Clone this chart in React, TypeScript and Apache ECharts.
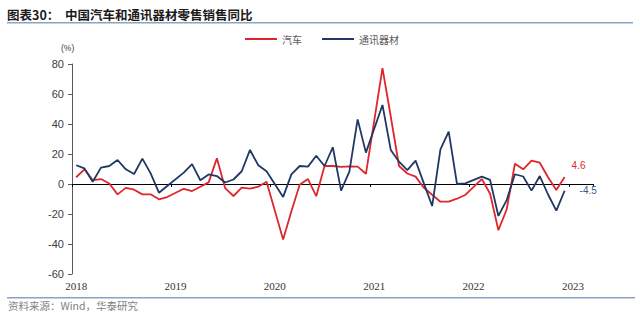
import React, { useEffect, useRef } from "react";
import * as echarts from "echarts";

// Categories: monthly, Jan 2018 .. Mar 2023
const YEARS = [2018, 2019, 2020, 2021, 2022, 2023];
const MONTHS: string[] = YEARS.flatMap((y) =>
  Array.from({ length: 12 }, (_, i) => `${y}-${String(i + 1).padStart(2, "0")}`)
).slice(0, 63);

// 汽车零售额同比 (%) — January folded into Jan-Feb, so left empty
const auto2018 = [4.5, 9.8, 2.6, 3.3, 0.3, -6.9, -2.6, -3.8, -6.9, -6.9, -10.2, -8.7];
const auto2019 = [null, -3.2, -4.7, -1.8, 1.1, 17.1, -2.8, -8.0, -2.4, -3.1, -1.8, 1.5];
const auto2020 = [null, -37.0, -18.1, -0.5, 3.3, -8.1, 12.0, 12.0, 11.4, 11.8, 11.6, 6.8];
const auto2021 = [null, 77.3, 45.0, 12.0, 7.0, 4.9, -2.5, -7.2, -11.8, -11.8, -9.8, -7.3];
const auto2022 = [null, 3.3, -6.5, -30.8, -17.0, 13.5, 9.8, 15.6, 14.2, 4.5, -4.0, 4.6];

// 通讯器材零售额同比 (%)
const comm2018 = [12.5, 10.4, 1.5, 10.9, 12.0, 16.0, 9.8, 6.7, 16.9, 7.1, -5.8, -1.3];
const comm2019 = [null, 7.6, 13.3, 2.5, 6.4, 5.3, 1.0, 3.0, 8.5, 22.7, 12.5, 8.5];
const comm2020 = [null, -8.6, 6.4, 12.0, 11.6, 18.8, 12.0, 24.5, -4.4, 8.2, 43.1, 20.9];
const comm2021 = [null, 52.7, 22.7, 14.9, 9.3, 15.6, 0.4, -14.7, 23.1, 34.9, 0.0, 0.4];
const comm2022 = [null, 4.9, 2.7, -21.3, -10.7, 6.5, 5.0, -4.4, 5.3, -7.0, -17.8, -4.5];

const AUTO = [...auto2018, ...auto2019, ...auto2020, ...auto2021, ...auto2022];
const COMM = [...comm2018, ...comm2019, ...comm2020, ...comm2021, ...comm2022];

const Y_MIN = -60;
const Y_MAX = 80;
const Y_STEP = 20;

const TITLE = "图表30：  中国汽车和通讯器材零售销售同比";
const SOURCE = "资料来源：Wind，华泰研究";
const UNIT = "(%)";
const NAMES = ["汽车", "通讯器材"];

const RED = "#E0262D";
const NAVY = "#1F3864";
const RULE = "#8AA3C4";

export default function App() {
  const ref = useRef<HTMLDivElement>(null);

  useEffect(() => {
    if (!ref.current) return;
    const chart = echarts.init(ref.current, undefined, { renderer: "svg" });
    const endFmt = (p: any) => String(Array.isArray(p.value) ? p.value[1] : p.value);
    chart.setOption({
      animation: false,
      backgroundColor: "#ffffff",
      grid: { left: 72, right: 46.4, top: 64, bottom: 45, containLabel: false },
      legend: {
        data: NAMES,
        left: 245,
        top: 34,
        padding: 0,
        icon: "rect",
        itemWidth: 32,
        itemHeight: 2,
        itemGap: 20,
        textStyle: { fontSize: 10, color: "#595959", fontFamily: "Noto Sans CJK SC" },
      },
      xAxis: [
        {
          type: "category",
          data: MONTHS,
          boundaryGap: true,
          position: "bottom",
          axisLine: { show: false, onZero: false },
          axisTick: { show: false },
          axisLabel: {
            interval: (i: number) => i % 12 === 0,
            formatter: (v: string) => v.slice(0, 4),
            fontSize: 11,
            color: "#333333",
            fontFamily: "Liberation Serif",
            margin: 6,
          },
          splitLine: { show: false },
        },
        {
          type: "category",
          data: MONTHS,
          boundaryGap: true,
          position: "bottom",
          axisLine: { show: true, onZero: true, lineStyle: { color: "#000000", width: 1 } },
          axisTick: {
            show: true,
            interval: (i: number) => i % 12 === 0,
            length: 3,
            lineStyle: { color: "#000000" },
          },
          axisLabel: { show: false },
          splitLine: { show: false },
        },
      ],
      yAxis: {
        type: "value",
        min: Y_MIN,
        max: Y_MAX,
        interval: Y_STEP,
        axisLine: { show: true, lineStyle: { color: "#595959" } },
        axisTick: { show: true, length: 4, lineStyle: { color: "#595959" } },
        axisLabel: { fontSize: 11, color: "#404040", margin: 8, fontFamily: "Liberation Sans" },
        splitLine: { show: false },
      },
      series: [
        {
          name: NAMES[0],
          type: "line",
          data: AUTO,
          xAxisIndex: 0,
          symbol: "none",
          connectNulls: true,
          silent: true,
          lineStyle: { color: RED, width: 1.8 },
          itemStyle: { color: RED },
          endLabel: {
            show: true,
            formatter: endFmt,
            color: RED,
            fontSize: 10,
            fontFamily: "Liberation Sans",
            offset: [-1, -12],
          },
        },
        {
          name: NAMES[1],
          type: "line",
          data: COMM,
          xAxisIndex: 0,
          symbol: "none",
          connectNulls: true,
          silent: true,
          lineStyle: { color: NAVY, width: 1.8 },
          itemStyle: { color: NAVY },
          endLabel: {
            show: true,
            formatter: endFmt,
            color: "#3A5A8C",
            fontSize: 10,
            fontFamily: "Liberation Sans",
            offset: [7, 0],
          },
        },
      ],
      graphic: [
        {
          type: "text",
          left: 7,
          top: 8,
          style: {
            text: TITLE,
            fontSize: 12.5,
            fontWeight: "bold",
            fill: "#1a1a1a",
            fontFamily: "Noto Sans CJK SC",
          },
        },
        {
          type: "rect",
          shape: { x: 7, y: 22, width: 626, height: 1.5 },
          style: { fill: RULE },
        },
        {
          type: "text",
          left: 61,
          top: 43,
          style: { text: UNIT, fontSize: 8.5, fill: "#404040", fontFamily: "Liberation Sans" },
        },
        {
          type: "rect",
          shape: { x: 7, y: 297, width: 628, height: 1.5 },
          style: { fill: RULE },
        },
        {
          type: "text",
          left: 8,
          top: 300,
          style: { text: SOURCE, fontSize: 10.5, fill: "#7f7f7f", fontFamily: "Noto Sans CJK SC" },
        },
      ],
    });
    return () => chart.dispose();
  }, []);

  return (
    <div
      ref={ref}
      style={{ position: "fixed", left: 0, top: 0, width: 640, height: 319, background: "#fff" }}
    />
  );
}
